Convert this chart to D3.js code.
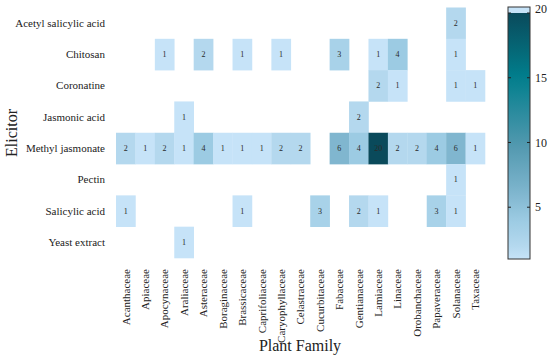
<!DOCTYPE html>
<html><head><meta charset="utf-8">
<script src="https://cdn.jsdelivr.net/npm/d3@7"></script>
<style>body{margin:0;background:#fff}svg{display:block}svg text{font-family:"Liberation Serif","Times New Roman",serif !important;fill:#222}</style>
</head><body><svg id="c" width="550" height="364"></svg>
<script>
const families = ["Acanthaceae","Apiaceae","Apocynaceae","Araliaceae","Asteraceae","Boraginaceae","Brassicaceae","Caprifoliaceae","Caryophyllaceae","Celastraceae","Cucurbitaceae","Fabaceae","Gentianaceae","Lamiaceae","Linaceae","Orobanchaceae","Papaveraceae","Solanaceae","Taxaceae"];
const elicitors = ["Acetyl salicylic acid","Chitosan","Coronatine","Jasmonic acid","Methyl jasmonate","Pectin","Salicylic acid","Yeast extract"];
// counts per elicitor, one value per family (null = no study)
const acetylSalicylic = [null,null,null,null,null,null,null,null,null,null,null,null,null,null,null,null,null,2,null];
const chitosan        = [null,null,1,null,2,null,1,null,1,null,null,3,null,1,4,null,null,1,null];
const coronatine      = [null,null,null,null,null,null,null,null,null,null,null,null,null,2,1,null,null,1,1];
const jasmonicAcid    = [null,null,null,1,null,null,null,null,null,null,null,null,2,null,null,null,null,null,null];
const methylJasmonate = [2,1,2,1,4,1,1,1,2,2,null,6,4,20,2,2,4,6,1];
const pectin          = [null,null,null,null,null,null,null,null,null,null,null,null,null,null,null,null,null,1,null];
const salicylicAcid   = [1,null,null,null,null,null,1,null,null,null,3,null,2,1,null,null,3,1,null];
const yeastExtract    = [null,null,null,1,null,null,null,null,null,null,null,null,null,null,null,null,null,null,null];
const rows = [acetylSalicylic,chitosan,coronatine,jasmonicAcid,methylJasmonate,pectin,salicylicAcid,yeastExtract];
const colorTicks = [5,10,15,20];

const svg = d3.select("#c");
const x = d3.scaleBand().domain(families).range([116,485]);
const y = d3.scaleBand().domain(elicitors).range([7.5,258]);
const color = d3.scaleLinear().domain([1,2,4,6,10,15,20])
  .range(["#c6e3f8","#b4d8ee","#9ccbe3","#80b6cf","#4f97ad","#017f8d","#0a4a5b"]).clamp(true);

const cells = [];
rows.forEach((r,i)=>r.forEach((v,j)=>{ if(v!=null) cells.push({e:elicitors[i],f:families[j],v}); }));

svg.append("g").selectAll("rect").data(cells).join("rect")
  .attr("x",d=>x(d.f)).attr("y",d=>y(d.e))
  .attr("width",x.bandwidth()+0.3).attr("height",y.bandwidth()+0.3)
  .attr("fill",d=>color(d.v));
svg.append("g").selectAll("text").data(cells).join("text")
  .attr("x",d=>x(d.f)+x.bandwidth()/2).attr("y",d=>y(d.e)+y.bandwidth()/2)
  .attr("text-anchor","middle").attr("dominant-baseline","central")
  .style("font-size","8px").style("fill","#2a2a2a").text(d=>d.v);

// y axis labels
const ya = svg.append("g").attr("transform","translate(110,0)")
  .call(d3.axisLeft(y).tickSize(0).tickPadding(5));
ya.attr("font-family",null);
ya.select(".domain").remove();
ya.selectAll("text").style("font-size","11px");

// x axis labels
const xa = svg.append("g").attr("transform","translate(0,265)")
  .call(d3.axisBottom(x).tickSize(0).tickPadding(0));
xa.attr("font-family",null);
xa.select(".domain").remove();
xa.selectAll("text").attr("transform","rotate(-90)").attr("text-anchor","end")
  .attr("x",-4).attr("y",0).attr("dy","0.35em")
  .style("font-size","11px");

svg.append("text").attr("x",300).attr("y",351).attr("text-anchor","middle")
  .style("font-size","16px").text("Plant Family");
svg.append("text").attr("transform","translate(17,133) rotate(-90)").attr("text-anchor","middle")
  .style("font-size","16px").text("Elicitor");

// colorbar
const cbX=508, cbW=22, cbTop=7, cbBot=259;
const cs = d3.scaleLinear().domain([1,20]).range([cbBot,cbTop+6]);
const defs = svg.append("defs");
const grad = defs.append("linearGradient").attr("id","g").attr("x1",0).attr("y1",1).attr("x2",0).attr("y2",0);
d3.range(0,1.0001,0.05).forEach(t=>{
  grad.append("stop").attr("offset",t).attr("stop-color",color(1+19*t));
});
svg.append("rect").attr("x",cbX).attr("y",cs(20)).attr("width",cbW).attr("height",cbBot-cs(20)).attr("fill","url(#g)");
svg.append("rect").attr("x",cbX).attr("y",cbTop).attr("width",cbW).attr("height",cs(20)-cbTop).attr("fill","#c6e3f8");
svg.append("rect").attr("x",cbX).attr("y",cbTop).attr("width",cbW).attr("height",cbBot-cbTop)
  .attr("fill","none").attr("stroke","#333").attr("stroke-width",1);
const tg = svg.append("g").selectAll("g").data(colorTicks).join("g");
tg.append("line").attr("x1",cbX).attr("x2",cbX+3).attr("y1",d=>cs(d)).attr("y2",d=>cs(d)).attr("stroke","#222");
tg.append("line").attr("x1",cbX+cbW-3).attr("x2",cbX+cbW).attr("y1",d=>cs(d)).attr("y2",d=>cs(d)).attr("stroke","#222");
tg.append("text").attr("x",cbX+cbW+5).attr("y",d=>d===20?cbTop+2:cs(d)).attr("dy","0.35em")
  .style("font-size","12px").text(d=>d);
</script></body></html>
